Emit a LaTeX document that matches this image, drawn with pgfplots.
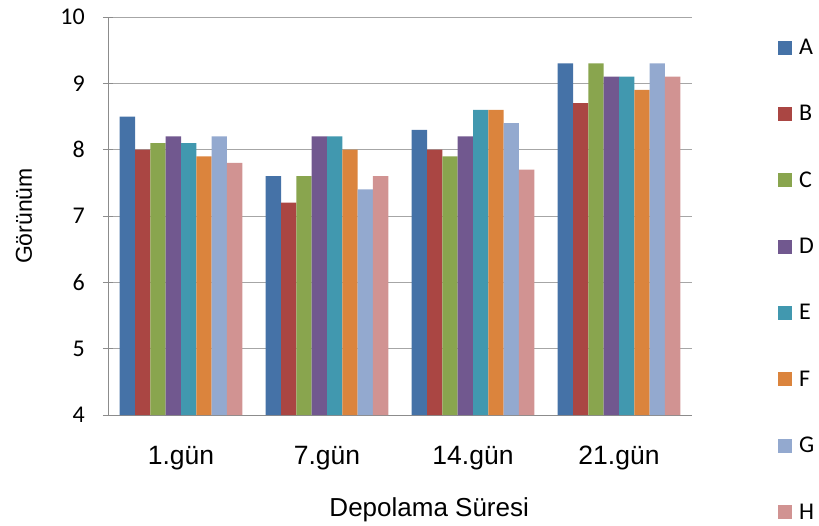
\documentclass[border=0pt]{standalone}
\usepackage{pgfplots}
\pgfplotsset{compat=1.18}
\usepackage{fontspec}
\setmainfont{Liberation Sans}
\newfontfamily\calibri{Carlito}
\definecolor{cA}{HTML}{4572A7}
\definecolor{cB}{HTML}{AA4643}
\definecolor{cC}{HTML}{89A54E}
\definecolor{cD}{HTML}{71588F}
\definecolor{cE}{HTML}{4198AF}
\definecolor{cF}{HTML}{DB843D}
\definecolor{cG}{HTML}{93A9CF}
\definecolor{cH}{HTML}{D19392}
\definecolor{gridc}{HTML}{A6A6A6}
\definecolor{axc}{HTML}{8C8C8C}
\begin{document}
\begin{tikzpicture}
\path[use as bounding box] (-108pt,-110pt) rectangle (711pt,415pt);
\begin{axis}[
  at={(0pt,0pt)}, anchor=south west,
  scale only axis, width=584pt, height=398pt,
  ymin=4, ymax=10, xmin=-0.5, xmax=3.5,
  ytick={4,5,6,7,8,9,10},
  xtick={0,1,2,3},
  xticklabels={1.gün,7.gün,14.gün,21.gün},
  axis lines*=left,
  axis line style={axc, line width=0.8pt},
  ymajorgrids, grid style={gridc, line width=0.8pt},
  ybar=0pt, bar width=0.105,
  major x tick style={draw=none},
  y tick style={axc, line width=0.8pt},
  tick align=center, major tick length=10pt,
  extra x ticks={-0.5,0.5,1.5,2.5,3.5},
  extra x tick labels={},
  extra x tick style={tick align=outside, major tick length=6pt, major x tick style={axc, line width=0.8pt}, xmajorgrids=false},
  /pgf/number format/assume math mode=true,
  yticklabel style={font=\calibri\fontsize{24}{28}\selectfont, inner sep=0pt, xshift=-18pt},
  xticklabel style={font=\fontsize{26.5}{30}\selectfont, anchor=base, text height=19pt, text depth=6pt, inner sep=0pt, yshift=-44pt},
  xlabel={Depolama Süresi},
  xlabel style={font=\fontsize{26}{30}\selectfont, at={(axis description cs:0.55,0)}, anchor=base, yshift=-101pt},
  ylabel={Görünüm},
  ylabel style={font=\fontsize{23}{27}\selectfont, at={(axis description cs:0,0.5)}, anchor=base, yshift=76pt},
  legend style={at={(1,1)}, anchor=north west, xshift=86pt, yshift=-22pt, draw=none, fill=none, inner sep=0pt,
    font=\calibri\fontsize{24}{28}\selectfont, row sep=49.4pt, column sep=7pt, nodes={inner sep=0pt}},
  legend cell align=left,
  legend image code/.code={\fill[#1] (0pt,-7pt) rectangle (14pt,7pt);},
]
\addplot[fill=cA, draw=none] coordinates {(0,8.5) (1,7.6) (2,8.3) (3,9.3)};
\addplot[fill=cB, draw=none] coordinates {(0,8.0) (1,7.2) (2,8.0) (3,8.7)};
\addplot[fill=cC, draw=none] coordinates {(0,8.1) (1,7.6) (2,7.9) (3,9.3)};
\addplot[fill=cD, draw=none] coordinates {(0,8.2) (1,8.2) (2,8.2) (3,9.1)};
\addplot[fill=cE, draw=none] coordinates {(0,8.1) (1,8.2) (2,8.6) (3,9.1)};
\addplot[fill=cF, draw=none] coordinates {(0,7.9) (1,8.0) (2,8.6) (3,8.9)};
\addplot[fill=cG, draw=none] coordinates {(0,8.2) (1,7.4) (2,8.4) (3,9.3)};
\addplot[fill=cH, draw=none] coordinates {(0,7.8) (1,7.6) (2,7.7) (3,9.1)};
\legend{A,B,C,D,E,F,G,H}
\end{axis}
\end{tikzpicture}
\end{document}
